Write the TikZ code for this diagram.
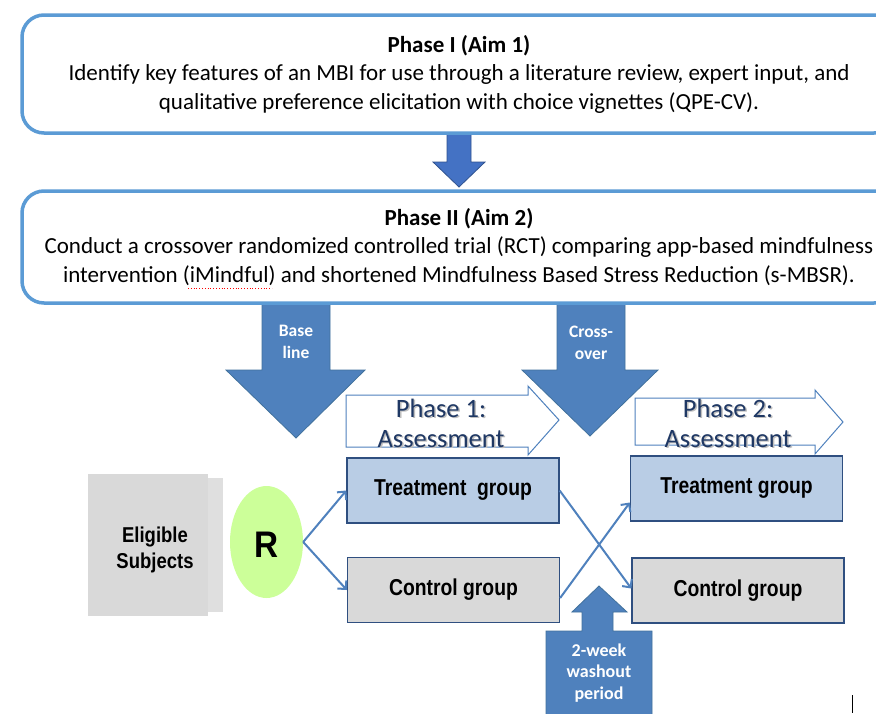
\documentclass[tikz,border=0pt]{standalone}
\usepackage{graphicx}
\usepackage{fontspec}
\setmainfont{Carlito}
\newfontfamily\arialf{Liberation Sans}
\usetikzlibrary{shapes.geometric,arrows.meta}
\definecolor{boxblue}{HTML}{5B9BD5}
\definecolor{downblue}{HTML}{4472C4}
\definecolor{downedge}{HTML}{2F528F}
\definecolor{arrowblue}{HTML}{4F81BD}
\definecolor{arrowedge}{HTML}{41719C}
\definecolor{navy}{HTML}{1F3864}
\definecolor{treatfill}{HTML}{B9CDE5}
\definecolor{ctrlfill}{HTML}{D9D9D9}
\definecolor{groupedge}{HTML}{2F4F80}
\definecolor{linkblue}{HTML}{4F81BD}
\definecolor{eligfill}{HTML}{D9D9D9}
\definecolor{rfill}{HTML}{CCFF99}
\newcommand{\narrow}[2]{\scalebox{#1}[1]{#2}}
\begin{document}
\begin{tikzpicture}[x=1pt,y=-1pt,
 phasebox/.style={draw=boxblue, line width=3.5pt, rounded corners=22pt, fill=white, minimum width=874pt, align=center, font=\fontsize{23}{28.5}\selectfont, inner sep=0pt},
 bigarrow/.style={fill=arrowblue, draw=arrowedge, line width=0.8pt},
 arrowlabel/.style={text=white, font=\bfseries\fontsize{17.5}{22}\selectfont, align=center, inner sep=0pt},
 assessarrow/.style={fill=white, draw=arrowblue, line width=1pt},
 assesslabel/.style={text=navy, font=\fontsize{26.5}{30}\selectfont, align=center, inner sep=0pt},
 shadowlabel/.style={text=black!25, font=\fontsize{26.5}{30}\selectfont, align=center, inner sep=0pt},
 groupbox/.style={draw=groupedge, line width=1.3pt, minimum width=212pt, minimum height=65pt, inner sep=0pt, font=\arialf\bfseries\fontsize{23}{26}\selectfont},
 treat/.style={groupbox, fill=treatfill},
 ctrl/.style={groupbox, fill=ctrlfill},
 link/.style={draw=linkblue, line width=2pt, -{Straight Barb[length=6pt,width=12pt,line width=2pt]}},
]
\useasboundingbox (0,0) rectangle (876,713);
\clip (0,0) rectangle (876,713);
\fill[white] (0,0) rectangle (876,713);

% Phase I -> Phase II down arrow
\draw[fill=downblue, draw=downedge, line width=0.8pt] (447,128) -- (471,128) -- (471,162) -- (485,162) -- (459,187) -- (433,162) -- (447,162) -- cycle;

% Big blue arrows (behind phase II box)
\draw[bigarrow] (262,298) -- (330,298) -- (330,370) -- (365,370) -- (296,438) -- (226,370) -- (262,370) -- cycle;
\node[arrowlabel] (baseline) at (296,342) {Base\\line};
\draw[bigarrow] (557,298) -- (625,298) -- (625,370) -- (658,370) -- (590,436) -- (522,370) -- (557,370) -- cycle;
\node[arrowlabel] (crossover) at (591,343) {Cross-\\over};

% Phase boxes
\node[phasebox, minimum height=118pt] (phase1) at (459,74) {\textbf{Phase I (Aim 1)}\\Identify key features of an MBI for use through a literature review, expert input, and\\qualitative preference elicitation with choice vignettes (QPE-CV).};
\node[phasebox, minimum height=112pt] (phase2) at (459,247) {\textbf{Phase II (Aim 2)}\\Conduct a crossover randomized controlled trial (RCT) comparing app-based mindfulness\\intervention (iMindful) and shortened Mindfulness Based Stress Reduction (s-MBSR).};
\draw[red, dotted, line width=0.8pt] (188,288.5) -- (272,288.5);

% Assessment arrows
\draw[assessarrow] (346,395) -- (528,395) -- (528,386) -- (559,420) -- (528,455) -- (528,447) -- (346,447) -- cycle;
\node[shadowlabel] at (442.5,424.5) {Phase 1:\\Assessment};
\node[assesslabel] (assess1) at (441,423) {Phase 1:\\Assessment};
\draw[assessarrow] (635,398) -- (815,398) -- (815,390) -- (843,422) -- (815,454) -- (815,445) -- (635,445) -- cycle;
\node[shadowlabel] at (729.5,424.5) {Phase 2:\\Assessment};
\node[assesslabel] (assess2) at (728,423) {Phase 2:\\Assessment};

% Eligible subjects
\fill[eligfill!85!white] (200,478) rectangle (223,612);
\node[fill=eligfill, minimum width=120pt, minimum height=142pt, inner sep=0pt] (elig) at (148,545) {};
\node[align=center, inner sep=0pt, font=\arialf\bfseries\fontsize{21.5}{26}\selectfont] (eligtext) at (155,550) {\narrow{0.86}{Eligible}\\\narrow{0.86}{Subjects}};

% R
\node[ellipse, fill=rfill, minimum width=73pt, minimum height=112pt, inner sep=0pt] (R) at (266.5,542) {};
\node[inner sep=0pt, font=\arialf\bfseries\fontsize{37}{40}\selectfont] (Rtext) at (266.5,545) {\narrow{0.9}{R}};

% Groups
\node[treat] (t1) at (453,490.5) {\narrow{0.84}{Treatment\ \ group}};
\node[ctrl] (c1) at (453.5,590) {\narrow{0.84}{Control group}};
\node[treat] (t2) at (736.5,488.5) {\narrow{0.84}{Treatment group}};
\node[ctrl] (c2) at (738,590.5) {\narrow{0.84}{Control group}};

% Washout arrow
\draw[bigarrow] (546,716) -- (546,631) -- (582,631) -- (582,612) -- (572,612) -- (599,586) -- (627,612) -- (613,612) -- (613,631) -- (652,631) -- (652,716) -- cycle;
\node[arrowlabel, font=\bfseries\fontsize{18}{21.5}\selectfont] (washout) at (599,673) {2-week\\washout\\period};

% Links
\draw[link] (R.east) -- (t1.west);
\draw[link] (R.east) -- (c1.west);
\draw[link] (t1.east) -- ([yshift=2pt]c2.west);
\draw[link] ([yshift=-8pt]c1.east) -- ([yshift=-14pt]t2.west);

% small mark
\coordinate (markA) at (852,695);
\coordinate (markB) at (852,713);
\draw[black, line width=1pt] (markA) -- (markB);
\end{tikzpicture}
\end{document}
